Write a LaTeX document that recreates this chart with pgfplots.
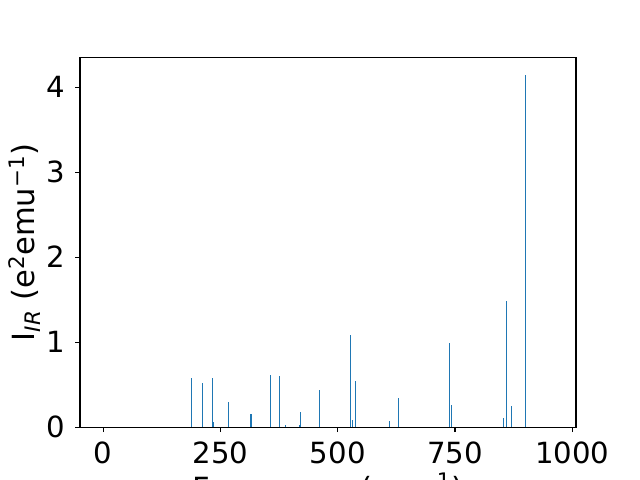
\documentclass[border=0pt]{standalone}
\usepackage{fontspec}
\setmainfont{DejaVu Sans}
\usepackage{pgfplots}
\pgfplotsset{compat=1.18}
\definecolor{mplblue}{HTML}{1F77B4}

\begin{document}
\fontsize{21bp}{25bp}\selectfont
\begin{tikzpicture}
  \begin{axis}[
      at={(0,0)}, anchor=south west,
      scale only axis,
      width=357.12bp, height=266.112bp,
      xmin=-49.6, xmax=1008,
      ymin=0, ymax=4.347,
      xtick={0,250,500,750,1000},
      ytick={0,1,2,3,4},
      xtick pos=bottom, ytick pos=left,
      tick align=outside,
      major tick length=3.5bp,
      every tick/.style={black, line width=0.8bp},
      axis line style={line width=0.8bp},
      tick label style={font=\fontsize{21bp}{25bp}\selectfont},
      label style={font=\fontsize{22bp}{26bp}\selectfont},
      /pgf/number format/assume math mode=true,
      /pgf/number format/1000 sep={},
      xlabel={Frequency (cm\textsuperscript{−1})},
      xlabel style={at={(axis description cs:0.5,0)}, anchor=base, yshift=-51.8bp},
      ylabel={I\textsubscript{\textit{IR}} (e\textsuperscript{2}emu\textsuperscript{−1})},
      ylabel style={at={(axis description cs:0,0.5)}, anchor=base, yshift=32.4bp},
    ]
    % IR intensities
    \addplot[ycomb, mplblue, line width=0.8bp, no markers] coordinates {
      (188,0.577) (211.6,0.518) (233,0.577) (234.5,0.06) (267,0.294)
      (315,0.153) (356,0.612) (375,0.600) (388,0.024) (418,0.024)
      (420.5,0.177) (461,0.436) (527,1.085) (531,0.086) (537.6,0.540)
      (610,0.077) (629,0.344) (738,0.986) (742,0.265) (853,0.106)
      (859,1.480) (870,0.247) (900,4.140)
    };
  \end{axis}
  \pgfresetboundingbox
  \path (-57.6bp,-38.016bp) rectangle (403.2bp,307.584bp);
\end{tikzpicture}
\end{document}
